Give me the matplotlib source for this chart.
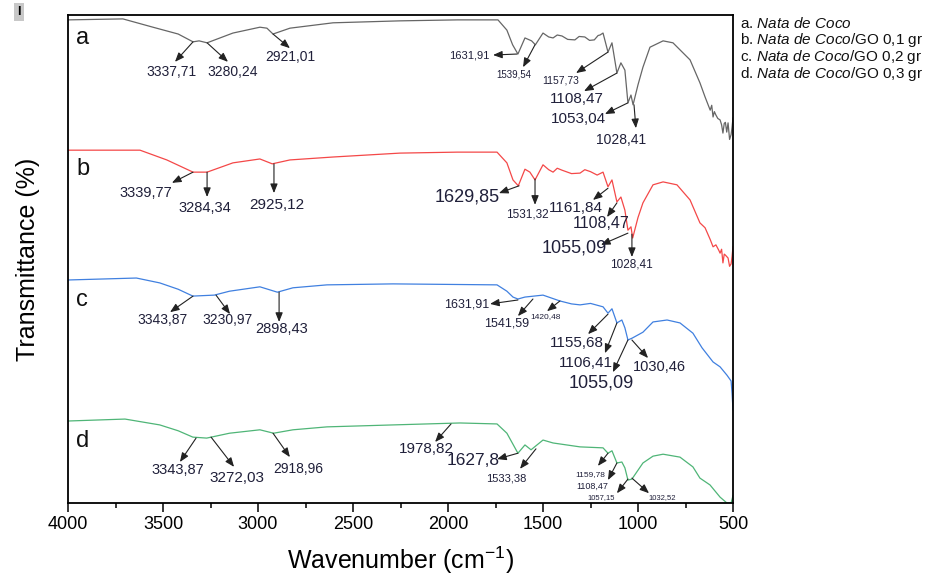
import numpy as np
import matplotlib
matplotlib.use("Agg")
import matplotlib.pyplot as plt

plt.rcParams['font.family'] = ['Liberation Sans', 'DejaVu Sans']
plt.rcParams['mathtext.fontset'] = 'custom'
plt.rcParams['mathtext.rm'] = 'Liberation Sans'
plt.rcParams['mathtext.it'] = 'Liberation Sans:italic'

# ---- spectra (wavenumber cm-1, offset transmittance) ----
a_wn = [4000, 3711, 3553, 3420, 3342, 3310, 3268, 3132, 2990, 2953, 2921, 2832, 2605, 2253,
        1950, 1737, 1690, 1660, 1632, 1595, 1560, 1540, 1500, 1470, 1447, 1425, 1400, 1370,
        1332, 1310, 1280, 1255, 1230, 1210, 1200, 1184, 1158, 1137, 1111, 1090, 1069, 1053,
        1037, 1026, 1000, 974, 937, 868, 816, 726, 674, 647, 620, 612, 605, 598, 590, 580,
        568, 560, 553, 546, 540, 533, 526, 518, 510, 505, 500]
a_T = [99.0, 99.2, 97.5, 96.1, 94.5, 94.7, 94.3, 96.3, 97.5, 97.3, 96.1, 97.3, 98.4, 98.8,
       99.0, 99.0, 96.9, 93.9, 92.0, 95.3, 94.7, 93.9, 96.3, 95.5, 95.3, 95.9, 95.7, 95.0,
       94.9, 95.6, 95.5, 94.8, 94.9, 95.8, 95.9, 96.3, 92.4, 94.3, 88.1, 90.2, 88.7, 82.0,
       83.6, 81.6, 85.7, 89.3, 93.4, 94.7, 94.3, 90.8, 86.1, 83.2, 80.5, 81.5, 79.1, 80.2,
       79.5, 78.8, 78.5, 77.5, 75.8, 77.8, 78.0, 76.0, 77.9, 74.5, 75.5, 77.0, 78.9]

b_wn = [4000, 3621, 3480, 3342, 3268, 3132, 2990, 2925, 2832, 2605, 2253, 1950, 1742, 1690,
        1658, 1630, 1595, 1569, 1542, 1500, 1470, 1447, 1425, 1400, 1350, 1305, 1280, 1250,
        1215, 1184, 1158, 1137, 1111, 1090, 1069, 1053, 1037, 1028, 1000, 974, 921, 868, 795,
        726, 674, 647, 620, 605, 590, 575, 568, 560, 553, 546, 540, 526, 518, 510, 505, 500]
b_T = [72.3, 72.3, 70.3, 67.8, 67.8, 69.7, 70.5, 69.5, 70.3, 70.9, 71.7, 71.9, 71.9, 69.7,
       66.2, 65.0, 68.4, 67.8, 66.2, 69.3, 68.3, 67.8, 68.6, 68.2, 67.5, 67.6, 68.3, 67.9,
       67.2, 67.8, 64.8, 66.2, 61.7, 62.7, 60.0, 55.9, 56.6, 54.3, 58.5, 61.5, 65.2, 65.8,
       65.2, 62.1, 57.4, 56.4, 54.0, 52.5, 52.9, 51.8, 51.2, 52.0, 49.2, 51.0, 50.8, 50.2,
       48.5, 49.0, 50.5, 52.5]

c_wn = [4000, 3640, 3517, 3420, 3343, 3230, 3150, 2990, 2898, 2816, 2637, 2290, 1742, 1690,
        1658, 1632, 1595, 1500, 1411, 1350, 1305, 1250, 1184, 1158, 1137, 1111, 1085, 1069,
        1053, 1030, 974, 921, 847, 779, 711, 663, 605, 568, 532, 510, 505, 500]
c_T = [45.7, 46.1, 45.1, 43.8, 42.4, 42.6, 43.4, 44.3, 43.2, 44.1, 44.7, 44.9, 44.7, 43.4,
       42.2, 41.8, 42.2, 42.6, 41.4, 40.8, 40.6, 40.9, 40.2, 38.9, 39.8, 36.9, 37.5, 35.9,
       33.4, 33.8, 35.0, 37.1, 37.5, 36.9, 34.8, 31.8, 28.9, 27.9, 26.2, 25.0, 22.5, 19.1]

d_wn = [4000, 3700, 3517, 3420, 3343, 3270, 3150, 2990, 2918, 2816, 2637, 2290, 1937, 1742,
        1690, 1632, 1595, 1563, 1500, 1447, 1305, 1184, 1158, 1137, 1111, 1085, 1069, 1053,
        1032, 974, 921, 868, 779, 711, 674, 621, 568, 532, 510, 500]
d_T = [16.8, 17.2, 16.0, 14.8, 13.5, 13.3, 14.3, 15.0, 14.3, 15.0, 15.6, 16.0, 16.4, 16.2,
       14.3, 10.2, 11.9, 10.9, 12.9, 12.3, 11.5, 11.3, 10.2, 10.7, 8.2, 8.4, 7.2, 4.7,
       4.9, 8.2, 9.6, 10.0, 9.4, 7.4, 5.1, 3.7, 1.2, 0.0, 0.0, 1.5]

series_letters = ["a", "b", "c", "d"]
legend_labels = [r"a. $\mathit{Nata\ de\ Coco}$",
                 r"b. $\mathit{Nata\ de\ Coco}$/GO 0,1 gr",
                 r"c. $\mathit{Nata\ de\ Coco}$/GO 0,2 gr",
                 r"d. $\mathit{Nata\ de\ Coco}$/GO 0,3 gr"]
colors = ["#666666", "#f44848", "#4080e0", "#4fb577"]

# peak labels: (text, curve wn, curve T, arrow-head wn, arrow-head T, text wn, text T, fontsize)
peaks = [
    ("3337,71", 3342, 94.5, 3437, 90.4, 3453, 88.3, 10),
    ("3280,24", 3268, 94.3, 3158, 90.4, 3132, 88.3, 10),
    ("2921,01", 2921, 96.1, 2832, 93.2, 2832, 91.4, 10),
    ("1631,91", 1637, 92.0, 1763, 91.8, 1889, 91.6, 8),
    ("1539,54", 1542, 93.9, 1605, 89.3, 1653, 87.9, 7),
    ("1157,73", 1158, 92.4, 1326, 88.1, 1405, 86.5, 7.5),
    ("1108,47", 1111, 88.1, 1284, 84.4, 1321, 82.8, 11),
    ("1053,04", 1053, 82.0, 1174, 79.7, 1316, 78.7, 11),
    ("1028,41", 1021, 81.6, 1011, 76.8, 1089, 74.4, 10),

    ("3339,77", 3342, 67.8, 3453, 65.6, 3589, 63.5, 10.5),
    ("3284,34", 3268, 67.8, 3268, 62.7, 3279, 60.5, 10.5),
    ("2925,12", 2916, 69.5, 2916, 63.5, 2900, 61.1, 11),
    ("1629,85", 1626, 65.0, 1732, 63.5, 1900, 62.7, 13),
    ("1531,32", 1542, 66.4, 1542, 61.1, 1584, 59.2, 8.5),
    ("1161,84", 1158, 64.5, 1237, 62.1, 1326, 60.5, 11),
    ("1108,47", 1111, 61.5, 1163, 58.6, 1195, 57.2, 11.5),
    ("1055,09", 1053, 55.3, 1195, 52.9, 1337, 52.3, 13),
    ("1028,41", 1032, 55.1, 1032, 50.4, 1032, 48.8, 8.5),

    ("3343,87", 3342, 42.4, 3463, 39.1, 3500, 37.5, 10),
    ("3230,97", 3221, 42.6, 3147, 38.7, 3158, 37.5, 10),
    ("2898,43", 2889, 43.2, 2889, 37.1, 2874, 35.7, 10.5),
    ("1631,91", 1632, 41.6, 1779, 40.8, 1900, 40.6, 9),
    ("1541,59", 1553, 41.8, 1632, 38.3, 1689, 36.7, 9),
    ("1420,48", 1411, 41.4, 1479, 39.3, 1489, 38.3, 6),
    ("1155,68", 1158, 38.7, 1263, 34.6, 1321, 32.8, 11),
    ("1106,41", 1111, 36.9, 1174, 30.7, 1274, 28.7, 11),
    ("1055,09", 1053, 33.4, 1132, 26.8, 1195, 24.6, 13),
    ("1030,46", 1032, 33.4, 947, 29.7, 889, 27.9, 10.5),

    ("3343,87", 3326, 13.3, 3411, 8.4, 3421, 6.8, 10.5),
    ("3272,03", 3247, 13.5, 3126, 7.4, 3111, 5.1, 11),
    ("2918,96", 2921, 14.3, 2832, 9.4, 2789, 7.0, 10),
    ("1978,82", 1984, 16.2, 2068, 12.5, 2116, 11.1, 11),
    ("1627,8", 1632, 10.2, 1742, 9.0, 1868, 8.8, 12.5),
    ("1533,38", 1537, 11.1, 1621, 7.0, 1695, 5.1, 8),
    ("1159,78", 1158, 10.2, 1211, 7.6, 1253, 5.9, 6),
    ("1108,47", 1111, 8.2, 1158, 4.7, 1242, 3.5, 6.5),
    ("1057,15", 1053, 4.9, 1111, 2.0, 1195, 1.2, 5.5),
    ("1032,52", 1032, 5.1, 942, 2.0, 874, 1.2, 5.5),
]


def main():
    fig = plt.figure(figsize=(9.32, 5.83), dpi=100)
    ax = fig.add_axes([68 / 932, 80 / 583, 665 / 932, 488 / 583])

    spectra = [(a_wn, a_T), (b_wn, b_T), (c_wn, c_T), (d_wn, d_T)]
    for (wn, T), col in zip(spectra, colors):
        ax.plot(wn, T, color=col, lw=0.9)

    text_col = "#20203a"
    for lab, x0, y0, x1, y1, xt, yt, fs in peaks:
        ax.annotate("", xy=(x1, y1), xytext=(x0, y0),
                    arrowprops=dict(arrowstyle="-|>,head_length=0.55,head_width=0.22",
                                    color="#222222", lw=0.8, shrinkA=0, shrinkB=0))
        ax.text(xt, yt, lab, fontsize=fs, color=text_col, ha="center", va="center")

    letter_y = [0.953, 0.684, 0.416, 0.127]
    for let, ly in zip(series_letters, letter_y):
        ax.text(0.012, ly, let, transform=ax.transAxes, fontsize=17,
                ha="left", va="center", color="#111111")

    ax.set_xlim(4000, 500)
    ax.set_ylim(0, 100)
    ax.set_xticks(np.arange(4000, 499, -500))
    ax.set_xticks(np.arange(3750, 500, -500), minor=True)
    ax.set_yticks([])
    ax.tick_params(axis="x", which="major", direction="out", length=6.5, width=1.1,
                   labelsize=13, pad=3)
    ax.tick_params(axis="x", which="minor", direction="out", length=3.5, width=1.1)
    for sp in ax.spines.values():
        sp.set_linewidth(1.3)

    ax.set_xlabel("Wavenumber (cm$^{-1}$)", fontsize=18, labelpad=8)
    ax.set_ylabel("Transmittance (%)", fontsize=18, labelpad=20)

    for i, lab in enumerate(legend_labels):
        fig.text(740 / 932, 1 - (23 + 17 * i) / 583, lab, fontsize=11,
                 ha="left", va="center", color="#111111")

    # small grey marker in the top-left corner of the original image
    fig.text(19 / 932, 1 - 12 / 583, "I", fontsize=9, fontweight="bold", ha="center",
             va="center", bbox=dict(boxstyle="square,pad=0.25", fc="#c8c8c8", ec="none"))

    fig.savefig("out.png", dpi=100)


if __name__ == "__main__":
    main()
